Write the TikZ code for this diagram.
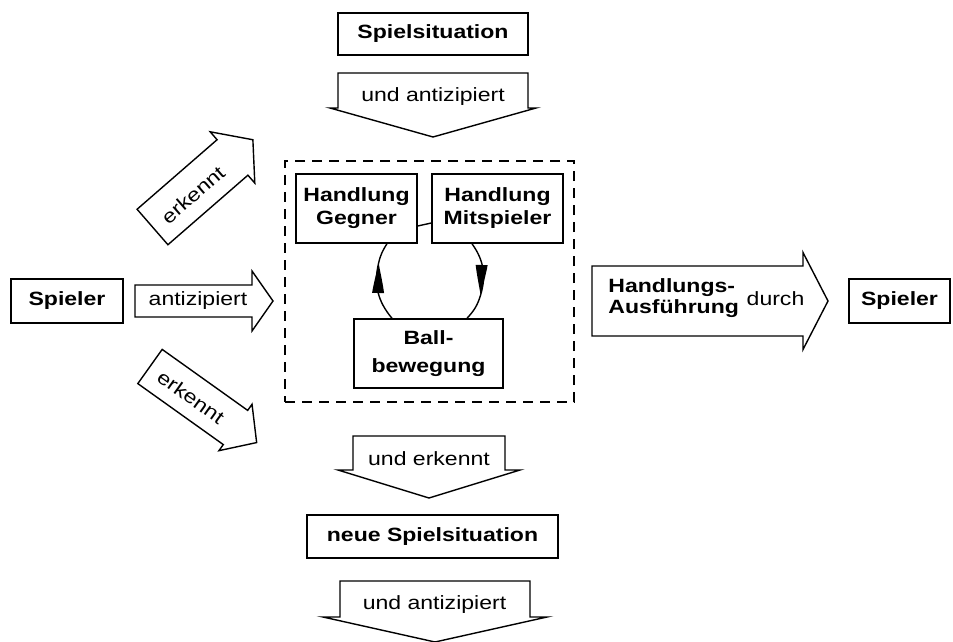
\documentclass[tikz,border=0pt]{standalone}
\usepackage{fontspec}
\setmainfont{Liberation Sans}[FakeStretch=1.2]
\usetikzlibrary{arrows.meta}
\newcommand{\myfs}{\fontsize{9.6}{11.5}\selectfont}
% #1 name, #2 tail centre, #3 angle, #4 shaft length, #5 half shaft width, #6 half head width, #7 head length
\newcommand{\blkarrow}[7]{%
  \begin{scope}[shift={#2}, rotate=#3]
    \draw[blk] (0,-#5) -- (#4,-#5) -- (#4,-#6) -- ({#4+#7},0) coordinate (#1-tip)
      -- (#4,#6) -- (#4,#5) -- (0,#5) -- cycle;
  \end{scope}}
% filled arrowhead: #1 tip coordinate, #2 direction (canvas angle)
\newcommand{\loophead}[2]{%
  \fill[shift={(#1)}, rotate=#2] (0,0) .. controls (-10,2) and (-20,4.5) .. (-30,6)
     -- (-30,-6) .. controls (-20,-4.5) and (-10,-2) .. cycle;}
\tikzset{
  box/.style={draw, line width=0.7pt, inner sep=0pt, align=center, font=\bfseries\myfs},
  blk/.style={draw, line width=0.7pt, line join=miter},
  lbl/.style={inner sep=0pt, font=\myfs},
  frame/.style={draw, line width=0.7pt, dash pattern=on 5pt off 3.5pt, inner sep=0pt},
  loopln/.style={line width=0.7pt}
}
\begin{document}
\begin{tikzpicture}[x=0.5pt, y=-0.5pt]
\useasboundingbox (0,0) rectangle (953,642);

% top
\node[box, minimum width=95pt, minimum height=21pt] (sit) at (433,34) {Spielsituation};
\blkarrow{a1}{(433,73)}{-90}{35}{95}{103}{29}
\node[lbl] (t1) at (433,97) {und antizipiert};

% dashed frame and inner loop
\node[frame, minimum width=144.5pt, minimum height=120.5pt] (frm) at (429.5,281.5) {};
\node[box, minimum width=60.5pt, minimum height=34.5pt] (gegner) at (356.5,208.5) {Handlung\\Gegner};
\node[box, minimum width=65.5pt, minimum height=34.5pt] (mit) at (497.5,208.5) {Handlung\\Mitspieler};
\node[box, minimum width=74.5pt, minimum height=34.5pt, font=\bfseries\fontsize{9.6}{14}\selectfont] (ball) at (428.5,353.5) {Ball-\\bewegung};
\draw[loopln] (gegner.east |- 0,226) -- (mit.west |- 0,223);
\coordinate (ltip) at (378.6,263);
\coordinate (rtip) at (480.6,295);
\draw[loopln] (ball.north -| 392,0) to[out=130, in=256.9] (ltip)
   to[out=76.9, in=237.5] (gegner.south -| 387,0);
\draw[loopln] (mit.south -| 472,0) to[out=-54.6, in=73.5] (rtip)
   to[out=-106.5, in=47.1] (ball.north -| 467,0);
\loophead{ltip}{89}
\loophead{rtip}{-92}

% left side
\node[box, minimum width=56pt, minimum height=22pt] (sp1) at (67,301) {Spieler};
\blkarrow{a4}{(135,301)}{0}{117}{16}{30}{21}
\node[lbl] (t4) at (198,301) {antizipiert};
\blkarrow{a5}{(152.5,227)}{41}{106}{23.5}{34}{27}
\node[lbl, rotate=41] (t5) at (193,195) {erkennt};
\blkarrow{a6}{(150,366.5)}{-35.5}{105}{21}{28.5}{26}
\node[lbl, rotate=-35.5] (t6) at (191,397) {erkennt};

% right side
\blkarrow{a7}{(592,301)}{0}{211}{35}{48.5}{25}
\node[lbl, font=\bfseries\fontsize{9.6}{10.5}\selectfont, align=left, anchor=west] (t7) at (608,298) {Handlungs-\\Ausführung};
\node[lbl] (t8) at (775.5,299) {durch};
\node[box, minimum width=50.5pt, minimum height=22pt] (sp2) at (899.5,301) {Spieler};

% bottom
\blkarrow{a2}{(429,436)}{-90}{34}{76}{91}{28}
\node[lbl] (t2) at (429,459) {und erkennt};
\node[box, minimum width=125.5pt, minimum height=21.5pt] (neu) at (432.5,536.5) {neue Spielsituation};
\blkarrow{a3}{(435,581)}{-90}{36}{95}{112}{25}
\node[lbl] (t3) at (434.5,605) {und antizipiert};
\end{tikzpicture}
\end{document}
